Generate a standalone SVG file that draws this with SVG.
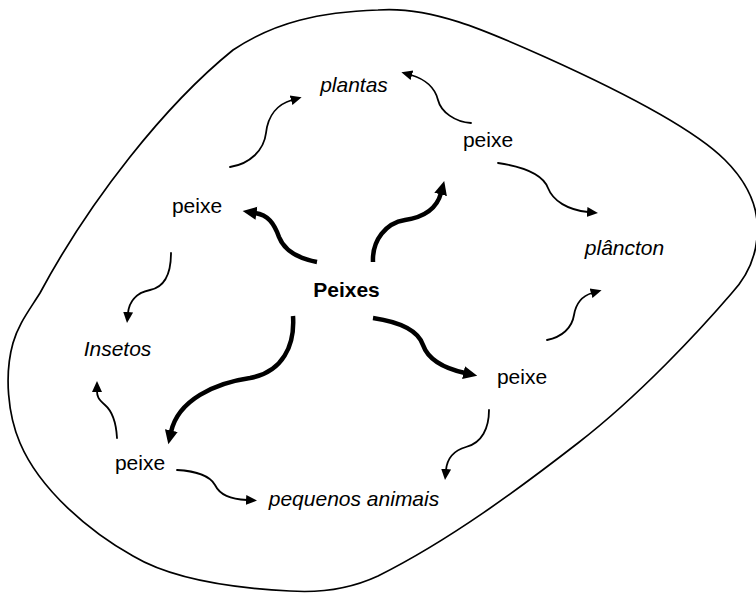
<svg xmlns="http://www.w3.org/2000/svg" width="756" height="593" viewBox="0 0 756 593">
<style>
text{font-family:"Liberation Sans",Arial,sans-serif;font-size:21px;fill:#000;text-anchor:middle}
.it{font-style:italic}
.b{font-weight:bold}
.thin{fill:none;stroke:#000;stroke-width:1.8;stroke-linecap:round;marker-end:url(#ah)}
.thick{fill:none;stroke:#000;stroke-width:4.5;marker-end:url(#ahB)}
.blob{fill:none;stroke:#000;stroke-width:1.7}
</style>
<defs>
<marker id="ah" markerUnits="userSpaceOnUse" viewBox="0 -6 12 12" markerWidth="12" markerHeight="12" refX="1" refY="0" orient="auto">
<path d="M0,-5 L11,0 L0,5 Z" fill="#000"/>
</marker>
<marker id="ahB" markerUnits="userSpaceOnUse" viewBox="0 -8 16 16" markerWidth="16" markerHeight="16" refX="1.5" refY="0" orient="auto">
<path d="M0,-6.5 L14,0 L0,6.5 Z" fill="#000"/>
</marker>
</defs>
<g id="boundary">
<path class="blob" d="M378,10 C430,6 485,30 545,57 C605,84 690,125 725,160 C748,183 760,210 757,238 C755,260 746,278 731,294 C700,330 640,395 578,443 C520,488 450,540 378,576 C350,589 320,593 290,591 C230,588 170,578 133,556 C90,532 40,490 20,443 C8,415 4,375 13,343 C18,325 28,312 40,293 C90,200 165,105 233,50 C275,22 320,12 378,10 Z"/>
</g>
<g id="connectors">
<path class="thick" d="M317,262 C296,258 284,250 279,237 C274,223 268,215 255,213"/>
<path class="thick" d="M373,262 C372,240 386,223 405,220 C425,217 437,208 441,193"/>
<path class="thick" d="M373,318 C400,322 418,330 423,345 C429,362 447,369 465,373"/>
<path class="thick" d="M293,316 C295,345 283,372 250,378 C215,383 178,400 171,432"/>
<path class="thin" d="M230,167 C250,164 264,150 266,133 C268,115 278,104 292,100"/>
<path class="thin" d="M471,123 C455,122 441,112 438,100 C435,88 425,79 411,75"/>
<path class="thin" d="M498,163 C525,167 543,175 548,188 C553,201 568,210 588,212"/>
<path class="thin" d="M547,340 C562,337 572,328 574,315 C576,303 582,296 592,293"/>
<path class="thin" d="M489,410 C489,428 482,443 466,447 C452,451 447,460 446,470"/>
<path class="thin" d="M171,253 C171,272 165,287 150,290 C135,293 129,303 128,313"/>
<path class="thin" d="M117,438 C116,420 112,411 105,405 C98,399 97,396 97,391"/>
<path class="thin" d="M177,470 C195,471 210,476 215,485 C220,495 230,499 247,500"/>
</g>
<g id="peixes"><text class="b" x="346.5" y="297">Peixes</text></g>
<g id="plantas"><text class="it" x="354" y="92">plantas</text></g>
<g id="peixe-tr"><text x="488" y="147">peixe</text></g>
<g id="peixe-l"><text x="197" y="213">peixe</text></g>
<g id="plancton"><text class="it" x="624.5" y="255">plâncton</text></g>
<g id="insetos"><text class="it" x="117.5" y="356">Insetos</text></g>
<g id="peixe-br"><text x="522" y="384">peixe</text></g>
<g id="peixe-bl"><text x="140" y="470">peixe</text></g>
<g id="pequenos"><text class="it" x="354" y="506">pequenos animais</text></g>
</svg>
